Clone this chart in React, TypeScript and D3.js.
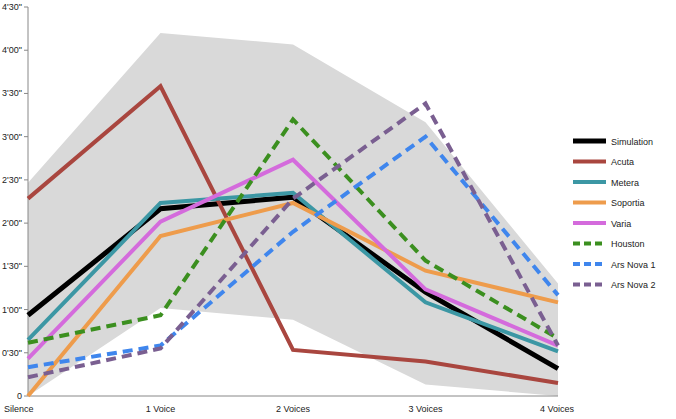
import React from "react";
import * as d3 from "d3";

const categories = ["Silence", "1 Voice", "2 Voices", "3 Voices", "4 Voices"];
const yTicks = [0, 30, 60, 90, 120, 150, 180, 210, 240, 270];
const tickLabels = ["0", "0'30\"", "1'00\"", "1'30\"", "2'00\"", "2'30\"", "3'00\"", "3'30\"", "4'00\"", "4'30\""];
const bandUpper = [148, 252, 244, 190, 78];
const bandLower = [0, 61, 53, 8, 0];
const seriesNames = ["Simulation", "Acuta", "Metera", "Soportia", "Varia", "Houston", "Ars Nova 1", "Ars Nova 2"];
const seriesColors = ["#000000", "#a9463f", "#3c97a4", "#ee9c4c", "#d46bdc", "#3b8f1f", "#3f86ed", "#7a5f91"];
const seriesDashed = [false, false, false, false, false, true, true, true];
const simulation = [56, 130, 138, 72, 19];
const acuta = [137, 215, 32, 24, 9];
const metera = [39, 134, 141, 65, 31];
const soportia = [0, 111, 134, 87, 65];
const varia = [26, 121, 164, 74, 35];
const houston = [37, 56, 192, 94, 40];
const arsNova1 = [20, 35, 114, 180, 70];
const arsNova2 = [13, 33, 137, 203, 35];
const seriesValues = [simulation, acuta, metera, soportia, varia, houston, arsNova1, arsNova2];

export default function App() {
  const x = d3.scalePoint<string>().domain(categories).range([28, 558]);
  const y = d3.scaleLinear().domain([0, 270]).range([396, 7]);
  const area = d3.area<number>()
    .x((_, i) => x(categories[i])!)
    .y0((_, i) => y(bandLower[i]))
    .y1((d) => y(d));
  const line = d3.line<number>().x((_, i) => x(categories[i])!).y((d) => y(d));
  const font = "Helvetica, Arial, 'Liberation Sans', sans-serif";
  return (
    <svg width={676} height={419} style={{ position: "absolute", left: 0, top: 0, fontFamily: font }}>
      <rect width={676} height={419} fill="#fff" />
      <path d={area(bandUpper)!} fill="#d9d9d9" />
      <line x1={28} x2={28} y1={7} y2={396} stroke="#888" />
      <line x1={28} x2={558} y1={396} y2={396} stroke="#888" />
      {yTicks.map((t, i) => (
        <g key={t}>
          <line x1={24} x2={28} y1={y(t)} y2={y(t)} stroke="#888" />
          <text x={22} y={y(t) + 3} fontSize={9} textAnchor="end" fill="#222">{tickLabels[i]}</text>
        </g>
      ))}
      {categories.map((c, i) => (
        <text key={c} x={x(c)!} y={412} fontSize={9} textAnchor={i === 0 ? "start" : i === categories.length - 1 ? "end" : "middle"} dx={i === 0 ? -24 : i === categories.length - 1 ? 16 : 0} fill="#222">{c}</text>
      ))}
      {seriesValues.map((vals, i) => (
        <path key={i} d={line(vals)!} fill="none" stroke={seriesColors[i]} strokeWidth={i === 0 ? 5 : 4}
          strokeDasharray={seriesDashed[i] ? "10,6" : undefined} />
      ))}
      {seriesNames.map((n, i) => (
        <g key={n} transform={`translate(573,${141 + i * 20.5})`}>
          <line x1={0} x2={33} y1={0} y2={0} stroke={seriesColors[i]} strokeWidth={i === 0 ? 5 : 4}
            strokeDasharray={seriesDashed[i] ? "7,4" : undefined} />
          <text x={38} y={3.5} fontSize={9} fill="#222">{n}</text>
        </g>
      ))}
    </svg>
  );
}
